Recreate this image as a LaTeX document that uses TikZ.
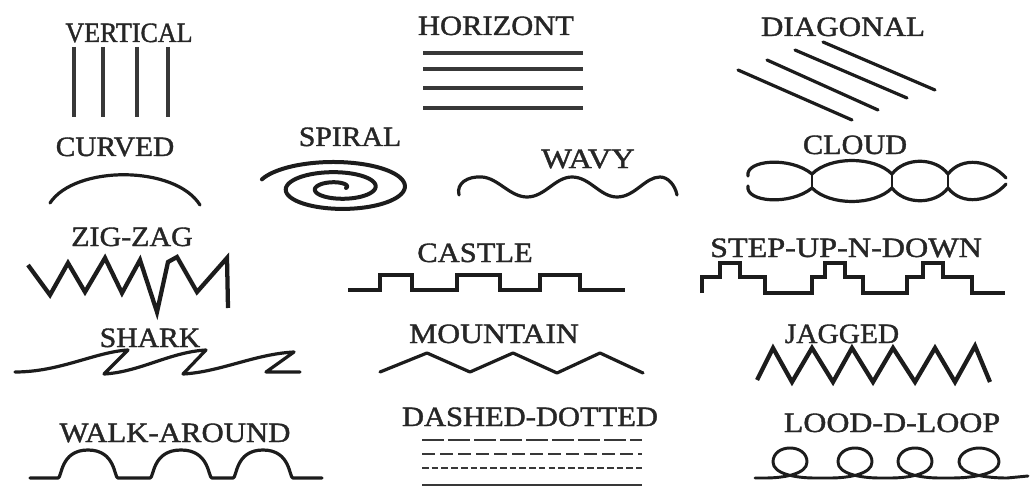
\documentclass[tikz,border=0pt]{standalone}
\usepackage{graphicx}
\usepackage{fontspec}
\setmainfont{Liberation Serif}[BoldFont={Liberation Serif},BoldFeatures={FakeBold=1.3}]
\definecolor{ink}{HTML}{1C1C1C}
\definecolor{grayink}{HTML}{383838}
\definecolor{txt}{HTML}{262626}
\newcommand{\lblt}[2]{\scalebox{#1}[1]{#2}}
\begin{document}
\begin{tikzpicture}[x=0.75pt,y=-0.75pt,
  lbl/.style={font=\fontsize{21}{21}\selectfont\bfseries, text=txt, inner sep=0pt, anchor=base},
  med/.style={draw=ink, line width=2.4pt, line cap=round, line join=round},
  thick/.style={draw=ink, line width=3pt, line join=miter},
  bar/.style={draw=grayink, line width=3.6pt},
  hbar/.style={draw=grayink, line width=2.5pt},
  dl/.style={draw=grayink, line width=1.9pt}]
\useasboundingbox[fill=white] (0,0) rectangle (1030,499);

% labels
\node[lbl] (tvert) at (129,42) {\lblt{0.93}{VERTICAL}};
\node[lbl] (thor) at (496,35) {\lblt{1.09}{HORIZONT}};
\node[lbl] (tdiag) at (843,36) {\lblt{1.11}{DIAGONAL}};
\node[lbl] (tcurv) at (115,156) {\lblt{1.05}{CURVED}};
\node[lbl] (tspir) at (350,146) {\lblt{1.06}{SPIRAL}};
\node[lbl] (twavy) at (588,168) {\lblt{1.16}{WAVY}};
\node[lbl] (tcloud) at (855,154) {\lblt{1.08}{CLOUD}};
\node[lbl] (tzig) at (132,246) {\lblt{1.07}{ZIG-ZAG}};
\node[lbl] (tcast) at (475,262) {\lblt{1.09}{CASTLE}};
\node[lbl] (tstep) at (846,257) {\lblt{1.15}{STEP-UP-N-DOWN}};
\node[lbl] (tshark) at (150,347) {\lblt{1.06}{SHARK}};
\node[lbl] (tmount) at (494,343) {\lblt{1.13}{MOUNTAIN}};
\node[lbl] (tjag) at (842,343) {\lblt{1.05}{JAGGED}};
\node[lbl] (twalk) at (175,442) {\lblt{1.10}{WALK-AROUND}};
\node[lbl] (tdash) at (530,426) {\lblt{1.09}{DASHED-DOTTED}};
\node[lbl] (tloop) at (892,432) {\lblt{1.14}{LOOD-D-LOOP}};

% vertical
\foreach \x in {74,103,137,168} \draw[bar] (\x,47) -- (\x,117);
% horizontal
\foreach \y in {53,69,88,108} \draw[hbar] (423,\y) -- (583,\y);
% diagonal
\draw[med] (738,70) -- (852,120);
\draw[med] (767,60) -- (878,110);
\draw[med] (795,50) -- (907,98);
\draw[med] (823,42) -- (935,90);

% curved
\draw[med] (50,203) .. controls (75,165) and (175,165) .. (200,205);

% spiral
\draw[med, line width=3pt] plot[domain=0:882, samples=220, smooth]
  ({338 + (8+(\x/882)*72)*cos(\x)}, {188 - (3+(\x/882)*25)*sin(\x)});

% wavy
\draw[med] (459,195) .. controls (456,183) and (468,176) .. (482,177)
  .. controls (498,178) and (510,197) .. (527,197)
  .. controls (545,197) and (555,177) .. (572,177)
  .. controls (590,177) and (600,197) .. (617,197)
  .. controls (635,197) and (645,177) .. (660,177)
  .. controls (668,177) and (675,185) .. (677,195);

% cloud
\draw[med] (748,176) .. controls (745,160) and (790,156) .. (812,174)
  .. controls (830,156) and (874,156) .. (892,174)
  .. controls (905,157) and (935,157) .. (948,174)
  .. controls (962,156) and (990,160) .. (1006,178);
\draw[med] (748,186) .. controls (745,202) and (790,206) .. (812,188)
  .. controls (830,206) and (874,206) .. (892,188)
  .. controls (905,205) and (935,205) .. (948,188)
  .. controls (962,206) and (990,202) .. (1006,184);
\foreach \x in {812,892,948} \draw[draw=ink, line width=1.2pt] (\x,174) -- (\x,188);

% zig-zag
\draw[thick, line width=3.2pt] (28,265) -- (50,295) -- (68,263) -- (85,292) -- (105,258) -- (122,293)
  -- (140,260) -- (157,312) -- (168,262) -- (177,257) -- (197,292) -- (227,258) -- (228,308);

% castle
\draw[thick, line width=2.8pt] (348,290) -- (380,290) -- (380,275) -- (412,275) -- (412,290) -- (457,290)
  -- (457,275) -- (500,275) -- (500,290) -- (540,290) -- (540,275) -- (580,275)
  -- (580,290) -- (625,290);

% step-up-n-down
\draw[thick, line width=3pt] (702,293) -- (702,277) -- (720,277) -- (720,263) -- (740,263) -- (740,277)
  -- (765,277) -- (765,293) -- (812,293) -- (812,277) -- (825,277) -- (825,263)
  -- (845,263) -- (845,277) -- (863,277) -- (863,293) -- (907,293) -- (907,277)
  -- (923,277) -- (923,263) -- (943,263) -- (943,277) -- (972,277) -- (972,293) -- (1005,293);

% shark
\draw[med] (15,372) .. controls (60,372) and (95,352) .. (128,350) -- (104,374)
  .. controls (140,372) and (170,352) .. (206,350) -- (183,374)
  .. controls (220,372) and (255,354) .. (294,352) -- (266,372) -- (300,372);

% mountain
\draw[med] (380,372) -- (427,353) -- (470,372) -- (513,353) -- (557,373) -- (600,353) -- (643,373);

% jagged
\draw[thick, line width=3.2pt] (757,380) -- (773,348) -- (792,382) -- (812,348) -- (833,382) -- (852,348)
  -- (873,382) -- (893,348) -- (915,382) -- (935,348) -- (955,382) -- (975,346) -- (990,382);

% walk-around
\draw[med] (30,478) -- (58,478) .. controls (62,478) and (60,450) .. (88,450)
  .. controls (116,450) and (114,478) .. (118,478)
  -- (150,478) .. controls (154,478) and (152,450) .. (181,450)
  .. controls (210,450) and (208,478) .. (212,478)
  -- (233,478) .. controls (237,478) and (235,450) .. (263,450)
  .. controls (291,450) and (289,478) .. (293,478) -- (322,478);

% dashed-dotted
\draw[dl, dash pattern=on 16.5pt off 3pt] (422,440) -- (642,440);
\draw[dl, dash pattern=on 9.5pt off 4pt] (422,454) -- (642,454);
\draw[dl, dash pattern=on 5pt off 2.3pt] (422,468) -- (642,468);
\draw[dl] (422,485) -- (642,485);

% lood-d-loop
\draw[med, line width=2.2pt] (755,478)
  \foreach \c/\w in {790/17,855/17,915/17,979/20} {
    -- (\c-\w-8,478) .. controls (\c-6,478) and (\c+\w,474) .. (\c+\w,462)
    .. controls (\c+\w,453) and (\c+9,448) .. (\c,448)
    .. controls (\c-9,448) and (\c-\w,453) .. (\c-\w,462)
    .. controls (\c-\w,474) and (\c+6,478) .. (\c+\w+8,478)
  } -- (1028,476);
\end{tikzpicture}
\end{document}
